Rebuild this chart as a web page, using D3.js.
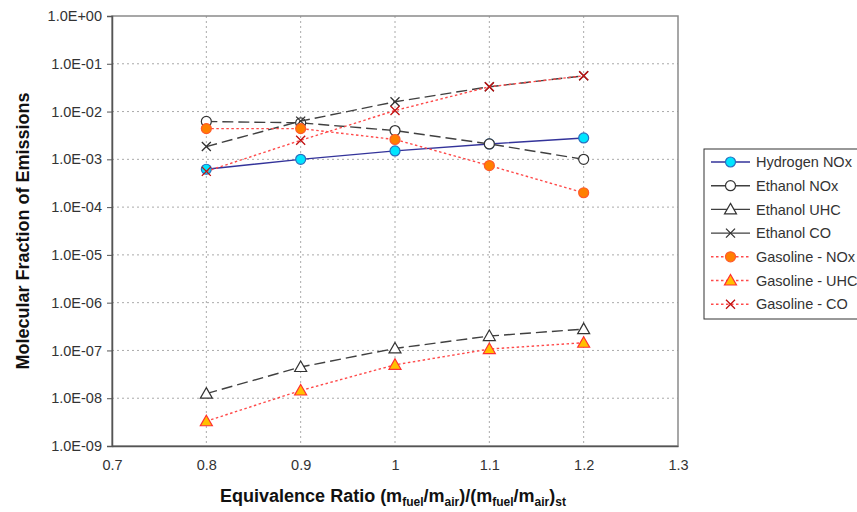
<!DOCTYPE html>
<html>
<head>
<meta charset="utf-8">
<script src="https://cdn.jsdelivr.net/npm/d3@7"></script>
<style>
  body { margin: 0; background: #fff; }
  svg { font-family: "Liberation Sans", Arial, sans-serif; }
</style>
</head>
<body>
<svg id="chart" width="857" height="512"></svg>
<script>
// equivalence ratio
const ratios = [0.8, 0.9, 1.0, 1.1, 1.2];

// molecular fractions
const hydrogenNOx = [6.2e-4, 1.0e-3, 1.5e-3, 2.1e-3, 2.8e-3];
const ethanolNOx = [6.2e-3, 5.8e-3, 4.0e-3, 2.1e-3, 1.0e-3];
const ethanolUHC = [1.25e-8, 4.5e-8, 1.1e-7, 2.0e-7, 2.8e-7];
const ethanolCO = [1.85e-3, 6.3e-3, 1.6e-2, 3.3e-2, 5.6e-2];
const gasolineNOx = [4.4e-3, 4.4e-3, 2.6e-3, 7.4e-4, 2.0e-4];
const gasolineUHC = [3.3e-9, 1.45e-8, 5.0e-8, 1.07e-7, 1.45e-7];
const gasolineCO = [5.6e-4, 2.5e-3, 1.05e-2, 3.3e-2, 5.6e-2];

const xTicks = [0.7, 0.8, 0.9, 1.0, 1.1, 1.2, 1.3];
const yTicks = [1, 1e-1, 1e-2, 1e-3, 1e-4, 1e-5, 1e-6, 1e-7, 1e-8, 1e-9];

const series = [
  { name: "Hydrogen NOx", values: hydrogenNOx, line: "#33339a", dash: null, marker: "circle", fill: "#00e5ff", stroke: "#2a6fbf" },
  { name: "Ethanol NOx", values: ethanolNOx, line: "#404040", dash: "11,5", marker: "circle", fill: "#fff", stroke: "#333" },
  { name: "Ethanol UHC", values: ethanolUHC, line: "#404040", dash: "11,5", marker: "triangle", fill: "#fff", stroke: "#333" },
  { name: "Ethanol CO", values: ethanolCO, line: "#404040", dash: "11,5", marker: "x", fill: "none", stroke: "#333" },
  { name: "Gasoline - NOx", values: gasolineNOx, line: "#ff4a4a", dash: "2.5,2.5", marker: "circle", fill: "#ff8000", stroke: "#ff5a2a" },
  { name: "Gasoline - UHC", values: gasolineUHC, line: "#ff4a4a", dash: "2.5,2.5", marker: "triangle", fill: "#ffc000", stroke: "#ff3030" },
  { name: "Gasoline - CO", values: gasolineCO, line: "#ff4a4a", dash: "2.5,2.5", marker: "x", fill: "none", stroke: "#c01010" }
];

const svg = d3.select("#chart");
const m = { left: 112, right: 678, top: 16, bottom: 446 };

const x = d3.scaleLinear().domain([0.7, 1.3]).range([m.left, m.right]);
const y = d3.scaleLog().domain([1e-9, 1]).range([m.bottom, m.top]);

// grid
const grid = svg.append("g").attr("stroke", "#aaa").attr("stroke-dasharray", "2,3");
grid.selectAll("line.gy")
  .data(yTicks.slice(1, -1))
  .join("line")
  .attr("class", "gy")
  .attr("x1", m.left).attr("x2", m.right)
  .attr("y1", (d) => y(d)).attr("y2", (d) => y(d));
grid.selectAll("line.gx")
  .data(xTicks.slice(1, -1))
  .join("line")
  .attr("class", "gx")
  .attr("x1", (d) => x(d)).attr("x2", (d) => x(d))
  .attr("y1", m.top).attr("y2", m.bottom);

// frame
svg.append("rect")
  .attr("x", m.left).attr("y", m.top)
  .attr("width", m.right - m.left).attr("height", m.bottom - m.top)
  .attr("fill", "none").attr("stroke", "#8a8a8a").attr("stroke-width", 1.5);

const fmt = (d) => {
  const e = Math.round(Math.log10(d));
  return "1.0E" + (e < 0 ? "-" : "+") + String(Math.abs(e)).padStart(2, "0");
};

const yAxis = svg.append("g")
  .attr("transform", `translate(${m.left},0)`)
  .call(d3.axisLeft(y).tickValues(yTicks).tickFormat(fmt).tickSize(5).tickPadding(5));
yAxis.select(".domain").attr("stroke", "#555").attr("stroke-width", 1.5);
yAxis.selectAll(".tick line").attr("stroke", "#555");
yAxis.selectAll("text").attr("font-size", 14.5).attr("fill", "#333");

const xAxis = svg.append("g")
  .attr("transform", `translate(0,${m.bottom})`)
  .call(d3.axisBottom(x).tickValues(xTicks).tickFormat((d) => String(+d.toFixed(1))).tickSize(0).tickPadding(14));
xAxis.select(".domain").attr("stroke", "#555").attr("stroke-width", 1.5);
xAxis.selectAll("text").attr("font-size", 14.5).attr("fill", "#333");

// axis titles
svg.append("text")
  .attr("transform", `translate(29,${(m.top + m.bottom) / 2}) rotate(-90)`)
  .attr("text-anchor", "middle")
  .attr("font-size", 18).attr("font-weight", "bold").attr("fill", "#111")
  .text("Molecular Fraction of Emissions");

const xt = svg.append("text")
  .attr("x", 393).attr("y", 502)
  .attr("text-anchor", "middle")
  .attr("font-size", 18).attr("font-weight", "bold").attr("fill", "#111");
xt.append("tspan").text("Equivalence Ratio (m");
xt.append("tspan").attr("font-size", 12).attr("dy", 4).text("fuel");
xt.append("tspan").attr("dy", -4).text("/m");
xt.append("tspan").attr("font-size", 12).attr("dy", 4).text("air");
xt.append("tspan").attr("dy", -4).text(")/(m");
xt.append("tspan").attr("font-size", 12).attr("dy", 4).text("fuel");
xt.append("tspan").attr("dy", -4).text("/m");
xt.append("tspan").attr("font-size", 12).attr("dy", 4).text("air");
xt.append("tspan").attr("dy", -4).text(")");
xt.append("tspan").attr("font-size", 12).attr("dy", 4).text("st");

function drawMarker(g, s, cx, cy) {
  if (s.marker === "circle") {
    g.append("circle").attr("cx", cx).attr("cy", cy).attr("r", 5)
      .attr("fill", s.fill).attr("stroke", s.stroke).attr("stroke-width", 1.2);
  } else if (s.marker === "triangle") {
    const r = 6;
    g.append("path")
      .attr("d", `M${cx},${cy - r}L${cx + r},${cy + r * 0.75}L${cx - r},${cy + r * 0.75}Z`)
      .attr("fill", s.fill).attr("stroke", s.stroke).attr("stroke-width", 1.2);
  } else {
    const r = 4.5;
    g.append("path")
      .attr("d", `M${cx - r},${cy - r}L${cx + r},${cy + r}M${cx - r},${cy + r}L${cx + r},${cy - r}`)
      .attr("stroke", s.stroke).attr("stroke-width", 1.3).attr("fill", "none");
  }
}

const line = d3.line().x((d) => x(d[0])).y((d) => y(d[1]));

series.forEach((s) => {
  const pts = ratios.map((r, i) => [r, s.values[i]]);
  const g = svg.append("g");
  g.append("path")
    .attr("d", line(pts))
    .attr("fill", "none")
    .attr("stroke", s.line)
    .attr("stroke-width", 1.4)
    .attr("stroke-dasharray", s.dash);
  pts.forEach((p) => drawMarker(g, s, x(p[0]), y(p[1])));
});

// legend
const lg = svg.append("g");
lg.append("rect")
  .attr("x", 704).attr("y", 149).attr("width", 160).attr("height", 170)
  .attr("fill", "#fff").attr("stroke", "#333").attr("stroke-width", 1);
series.forEach((s, i) => {
  const cy = 162 + i * 23.7;
  lg.append("line")
    .attr("x1", 711).attr("x2", 750).attr("y1", cy).attr("y2", cy)
    .attr("stroke", s.line).attr("stroke-width", 1.4)
    .attr("stroke-dasharray", s.line === "#ff4a4a" ? s.dash : null);
  drawMarker(lg, s, 730.5, cy);
  lg.append("text")
    .attr("x", 756).attr("y", cy).attr("dy", "0.36em")
    .attr("font-size", 14.5).attr("fill", "#333")
    .text(s.name);
});
</script>
</body>
</html>
